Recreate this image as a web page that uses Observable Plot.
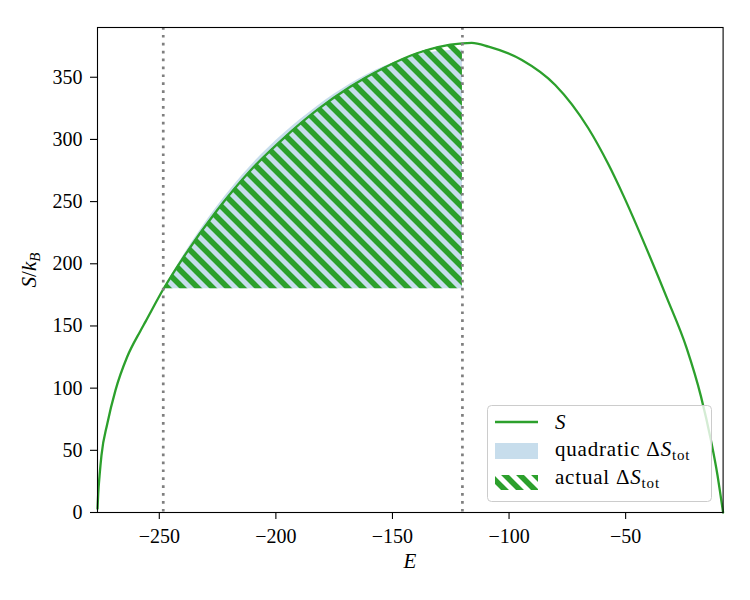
<!DOCTYPE html>
<html><head><meta charset="utf-8">
<script src="https://cdn.jsdelivr.net/npm/d3@7"></script>
<script src="https://cdn.jsdelivr.net/npm/@observablehq/plot@0.6"></script>
<style>
body{margin:0;background:white}
svg text{font-family:'Liberation Serif','DejaVu Serif',serif;}
</style>
</head><body><div id="chart"></div>
<script>
// Entropy curve S(E)
const curveE = [-276.5, -276.2, -275.6, -274.8, -272.3, -268.8, -263.8, -258.1, -255.9, -248.3, -239.5, -225.2, -210.9, -196.7, -182.3, -168.1, -153.8, -139.5, -130, -120, -116, -108.8, -94.5, -80.2, -66, -57.4, -51, -41, -32.4, -23.8, -17.7, -13.4, -10.6, -9.3, -8.2];
const curveS = [3, 15, 30, 46, 71.4, 98.2, 125, 146, 153.5, 179.5, 205.6, 243, 275, 300.9, 323.7, 342.4, 357.5, 369.3, 374.5, 377.2, 377.6, 374.6, 363.9, 343.8, 309, 280, 255, 212, 173, 132, 93.4, 58, 30, 14, 0];
// Quadratic approximation over the interval
const quadE = [-248.3, -239.5, -225.2, -210.9, -196.7, -182.3, -168.1, -153.8, -146.7, -139.5, -130, -120];
const quadS = [179.5, 207, 246, 278.5, 304.5, 326.5, 344.5, 358.5, 363.5, 368, 371, 372];
const baseS = 180;
const markerE = [-248.3, -120];
const xTicks = [-250, -200, -150, -100, -50];
const yTicks = [0, 50, 100, 150, 200, 250, 300, 350];
const xDomain = [-276.5, -8.2];
const yDomain = [0, 390];

const green = "#2ca02c";
const font = "'Liberation Serif', 'DejaVu Serif', serif";
const curve = curveE.map((E, i) => ({E, S: curveS[i]}));
const quad = quadE.map((E, i) => ({E, S: quadS[i]}));
const actual = curve.filter(d => d.E >= markerE[0] && d.E <= markerE[1]);

const svg = Plot.plot({
  width: 750,
  height: 600,
  marginLeft: 97,
  marginRight: 27.4,
  marginTop: 27,
  marginBottom: 88,
  style: `font-family: ${font}; font-size: 20px; background: white; color: black;`,
  x: {domain: xDomain, label: null},
  y: {domain: yDomain, label: null},
  marks: [
    Plot.areaY(quad, {x: "E", y1: baseS, y2: "S", fill: "#1f77b4", fillOpacity: 0.25, curve: "monotone-x"}),
    Plot.areaY(actual, {x: "E", y1: baseS, y2: "S", fill: "url(#hatch)", curve: "monotone-x"}),
    Plot.line(curve, {x: "E", y: "S", stroke: green, strokeWidth: 2.3, curve: "monotone-x"}),
    Plot.ruleX(markerE, {stroke: "#7f7f7f", strokeWidth: 2.7, strokeDasharray: "2.7 5.2"}),
    Plot.frame({stroke: "black", strokeWidth: 1.1}),
    Plot.axisX({ticks: xTicks, tickSize: 7, tickPadding: 9, label: null, strokeWidth: 1.1, fontSize: 20}),
    Plot.axisY({ticks: yTicks, tickSize: 7, tickPadding: 8, label: null, strokeWidth: 1.1, fontSize: 20})
  ]
});

const s = d3.select(svg);
const P = 15;
const defs = s.insert("defs", ":first-child");
const pat = defs.append("pattern").attr("id", "hatch").attr("patternUnits", "userSpaceOnUse")
  .attr("width", P).attr("height", P);
pat.append("path")
  .attr("d", `M0,0L${P},${P}M${-P/2},${P/2}L${P/2},${1.5*P}M${P/2},${-P/2}L${1.5*P},${P/2}`)
  .attr("stroke", green).attr("stroke-width", 5.6).attr("fill", "none");

// axis labels
s.append("text").attr("x", 410).attr("y", 568).attr("text-anchor", "middle")
  .style("font-size", "21px").style("font-style", "italic").text("E");
const yl = s.append("text").attr("transform", "translate(36,270) rotate(-90)").attr("text-anchor", "middle")
  .style("font-size", "21px");
yl.append("tspan").style("font-style", "italic").text("S");
yl.append("tspan").text("/");
yl.append("tspan").style("font-style", "italic").text("k");
yl.append("tspan").style("font-style", "italic").style("font-size", "15px").attr("dy", 4).text("B");

// legend
const g = s.append("g").attr("text-anchor", "start");
g.append("rect").attr("x", 487.5).attr("y", 405.5).attr("width", 224).attr("height", 96).attr("rx", 4)
  .attr("fill", "white").attr("fill-opacity", 0.8).attr("stroke", "#cccccc");
g.append("line").attr("x1", 495).attr("x2", 538).attr("y1", 422).attr("y2", 422)
  .attr("stroke", green).attr("stroke-width", 2.3);
g.append("rect").attr("x", 495).attr("y", 443).attr("width", 43).attr("height", 16)
  .attr("fill", "#1f77b4").attr("fill-opacity", 0.25);
g.append("rect").attr("x", 495).attr("y", 475).attr("width", 43).attr("height", 15)
  .attr("fill", "url(#hatch)");
const t1 = g.append("text").attr("x", 555).attr("y", 429).style("font-size", "21px");
t1.append("tspan").style("font-style", "italic").text("S");
function dS(y, word) {
  const t = g.append("text").attr("x", 555).attr("y", y).style("font-size", "21px").style("letter-spacing", "0.8px");
  t.append("tspan").text(word + " Δ");
  t.append("tspan").style("font-style", "italic").text("S");
  t.append("tspan").style("font-size", "15px").attr("dy", 4).text("tot");
}
dS(456, "quadratic");
dS(484, "actual");

document.getElementById("chart").appendChild(svg);
</script>
</body></html>
